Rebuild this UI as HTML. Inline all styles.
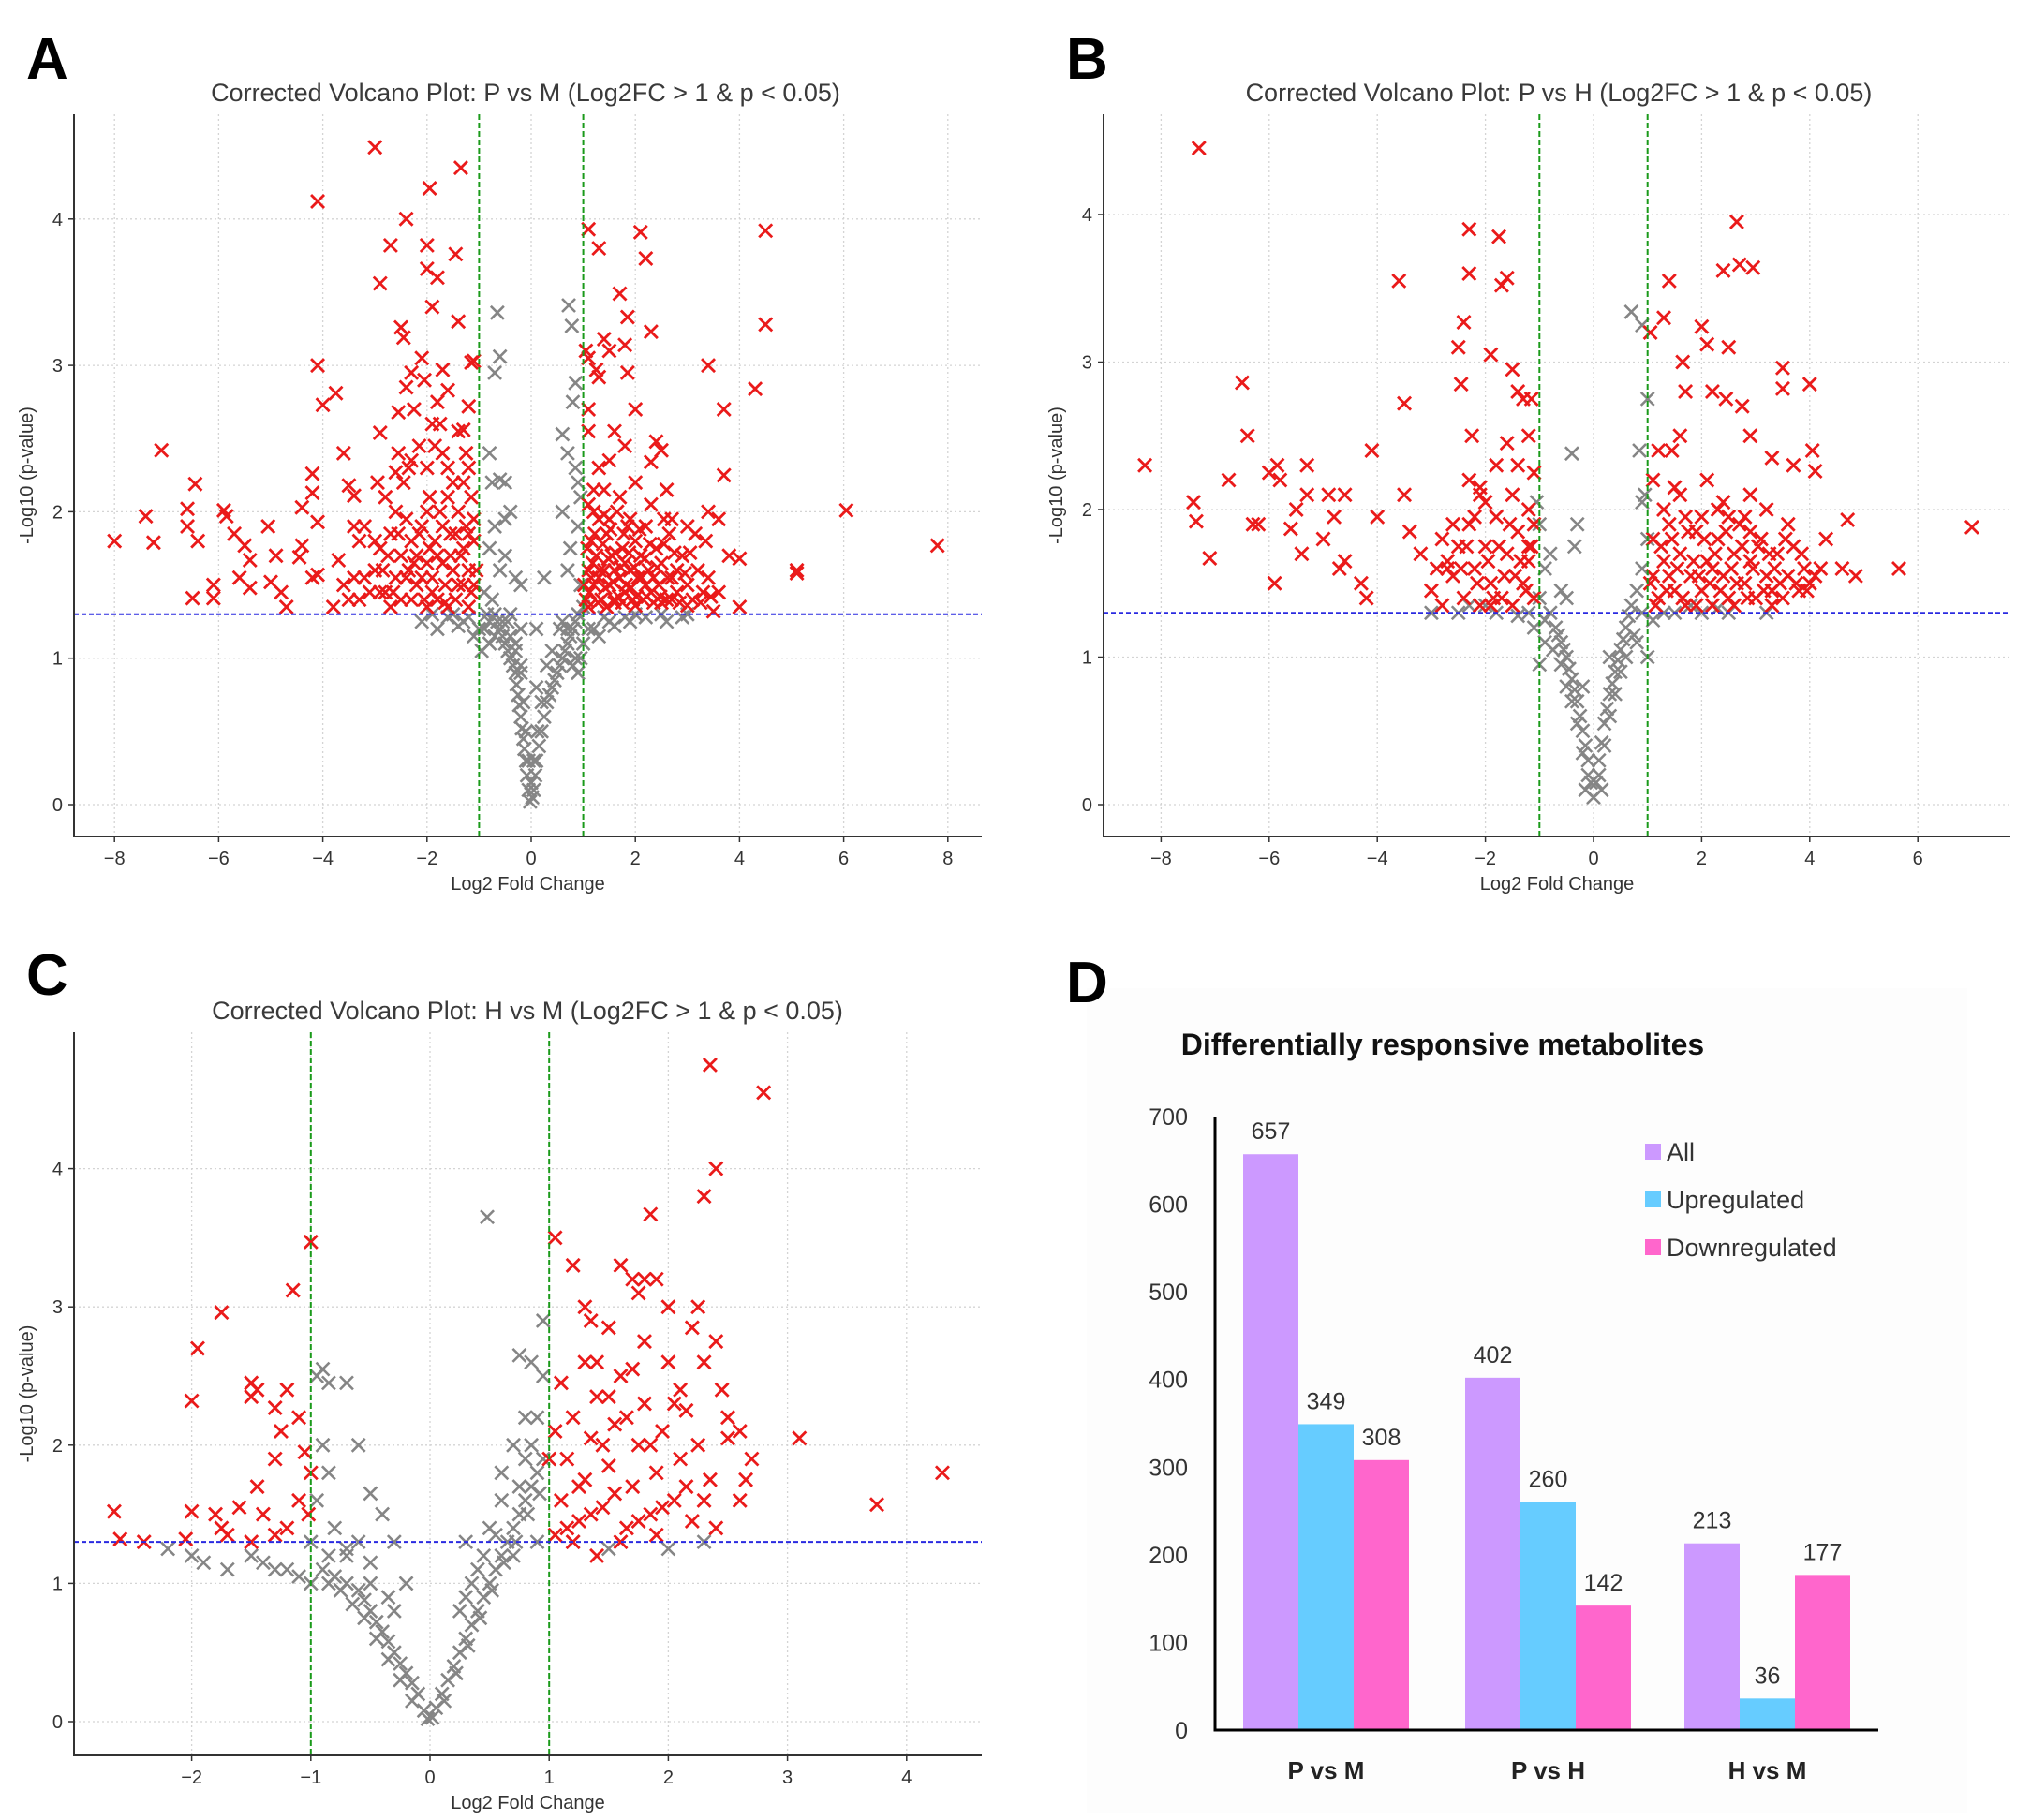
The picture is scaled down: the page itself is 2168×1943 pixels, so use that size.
<!DOCTYPE html>
<html><head><meta charset="utf-8"><style>
html,body{margin:0;padding:0;background:#fff}
svg{display:block}
text{font-family:"Liberation Sans","DejaVu Sans",sans-serif}
</style></head><body>
<svg id="fig" width="2168" height="1943" viewBox="0 0 2168 1943" xmlns="http://www.w3.org/2000/svg">
<rect x="1160" y="1055" width="940" height="880" fill="#fdfdfd"/>
<text x="28" y="84" font-size="62" font-weight="bold">A</text>
<text x="1138" y="84" font-size="62" font-weight="bold">B</text>
<text x="28" y="1062" font-size="62" font-weight="bold">C</text>
<text x="1138" y="1070" font-size="62" font-weight="bold">D</text>
<g id="pA"></g>
<g id="pB"></g>
<g id="pC"></g>
<g id="pD"></g>
</svg>
<script>
// ---------- Panel A data (log2FC, -log10 p) ----------
const aRed = [[-8,1.8],[-7.4,1.97],[-7.25,1.79],[-7.1,2.42],[-6.6,2.02],[-6.6,1.9],[-6.45,2.19],[-6.4,1.8],[-6.5,1.41],[-6.1,1.5],[-6.1,1.41],[-5.9,2.01],[-5.85,1.97],[-5.7,1.85],[-5.5,1.77],[-5.4,1.67],[-5.4,1.48],[-5.6,1.55],[-5.05,1.9],[-5,1.52],[-4.9,1.7],[-4.8,1.45],[-4.7,1.35],[-4.45,1.69],[-4.4,1.77],[-4.4,2.03],[-4.2,2.26],[-4.2,2.13],[-4.1,1.93],[-4.1,1.57],[-4.2,1.55],[-4.1,4.12],[-4.1,3.0],[-4.0,2.73],[-3.75,2.81],[-3.6,2.4],[-3.5,2.18],[-3.4,2.11],[-3.4,1.9],[-3.8,1.35],[-3.7,1.67],[-3.6,1.5],[-3.5,1.4],[-3.3,1.8],[-3.2,1.55],[-3.1,1.45],[-3.0,4.49],[-2.95,2.2],[-2.9,2.54],[-2.9,3.56],[-2.7,3.82],[-2.6,2.27],[-2.55,2.68],[-2.5,3.26],[-2.45,3.19],[-2.4,4.0],[-2.4,2.85],[-2.3,2.95],[-2.3,2.35],[-2.1,3.05],[-2.05,2.9],[-2.0,3.82],[-2.0,3.66],[-1.95,4.21],[-1.9,3.4],[-1.8,3.6],[-1.8,2.75],[-1.7,2.97],[-1.6,2.83],[-1.45,3.76],[-1.4,3.3],[-1.35,4.35],[-1.3,2.56],[-1.2,2.72],[-1.15,3.02],[-1.1,3.03],[-1.2,2.3],[-1.15,2.1],[-1.25,1.9],[-1.1,1.95],
[-3,1.6],[-2.9,1.75],[-2.8,1.45],[-2.7,1.85],[-2.6,1.55],[-2.5,1.7],[-2.5,1.4],[-2.4,1.95],[-2.35,1.6],[-2.3,1.8],[-2.2,1.5],[-2.2,1.7],[-2.1,1.9],[-2.05,1.4],[-2,1.65],[-1.95,2.1],[-1.9,1.55],[-1.85,1.8],[-1.8,1.4],[-1.75,2.0],[-1.7,1.65],[-1.65,1.5],[-1.6,2.3],[-1.55,1.85],[-1.5,1.6],[-1.45,1.4],[-1.4,2.0],[-1.35,1.7],[-1.3,1.5],[-1.25,2.4],[-1.2,1.6],[-1.15,1.45],[-1.1,1.8],[-1.05,1.6],[-2.6,2.0],[-2.45,2.2],[-2.15,2.45],[-1.9,2.6],[-1.7,2.4],[-1.5,2.2],[-2.8,2.1],[-3.2,1.9],[-2.0,1.35],[-1.6,1.35],[-2.7,1.35],[-1.2,1.35],[-2.25,2.7],[-1.75,2.6],[-2.0,2.3],[-1.4,2.55],
[1.1,3.93],[1.3,3.8],[2.1,3.91],[2.2,3.73],[1.7,3.49],[1.85,3.33],[2.3,3.23],[1.4,3.18],[1.5,3.1],[1.05,3.1],[1.1,3.05],[1.25,2.97],[1.8,3.14],[1.85,2.95],[1.3,2.92],[2.0,2.7],[1.1,2.7],[1.1,2.55],[1.6,2.55],[1.8,2.45],[2.4,2.48],[2.5,2.42],[1.5,2.35],[2.3,2.34],[1.3,2.3],[1.2,2.15],[1.4,2.15],[2.0,2.2],[2.6,2.15],[1.1,2.05],[1.7,2.1],[1.4,1.98],[3.4,3.0],[4.5,3.92],[4.5,3.28],[4.3,2.84],[3.7,2.7],[3.7,2.25],[3.4,2.0],[3.6,1.95],[3.8,1.7],[4.0,1.68],[4.0,1.35],[3.5,1.32],[3.6,1.45],[6.05,2.01],[5.1,1.6],[5.1,1.58],[7.8,1.77],
[1.05,1.4],[1.1,1.6],[1.15,1.8],[1.2,1.5],[1.25,1.7],[1.3,1.95],[1.35,1.4],[1.4,1.6],[1.45,1.85],[1.5,1.5],[1.55,1.7],[1.6,1.4],[1.65,2.0],[1.7,1.55],[1.75,1.75],[1.8,1.45],[1.85,1.9],[1.9,1.6],[1.95,1.4],[2.0,1.8],[2.05,1.55],[2.1,1.7],[2.15,1.4],[2.2,1.9],[2.25,1.6],[2.3,1.45],[2.4,1.75],[2.45,1.5],[2.5,1.65],[2.6,1.4],[2.65,1.85],[2.7,1.55],[2.8,1.45],[2.9,1.7],[3.0,1.5],[3.1,1.4],[3.15,1.85],[3.2,1.6],[3.3,1.45],[3.4,1.55],[1.2,2.0],[1.5,1.95],[2.3,2.05],[2.7,1.95],[3.0,1.9],[1.1,1.35],[1.6,1.38],[2.0,1.36],[2.5,1.38],[3.0,1.36],[1.3,1.55],[1.8,1.65],[2.2,1.5],[2.8,1.6]];
const aRed2 = [[1.02,1.5],[1.08,1.75],[1.12,1.45],[1.18,1.65],[1.22,1.85],[1.28,1.38],[1.32,1.6],[1.38,1.78],[1.42,1.48],[1.48,1.68],[1.52,1.88],[1.58,1.52],[1.62,1.72],[1.68,1.42],[1.72,1.62],[1.78,1.85],[1.82,1.5],[1.88,1.72],[1.92,1.48],[1.98,1.62],[2.02,1.42],[2.08,1.88],[2.12,1.55],[2.18,1.68],[2.22,1.42],[2.28,1.78],[2.35,1.55],[2.42,1.62],[2.48,1.42],[2.55,1.78],[2.62,1.55],[2.75,1.72],[2.85,1.38],[2.95,1.58],[3.05,1.72],[3.25,1.38],[3.35,1.8],[3.45,1.42],[1.15,1.55],[1.45,1.35],[1.75,1.38],[2.35,1.38],[2.7,1.4],[1.6,1.6],[1.9,1.95],[2.55,1.95],
[-3.4,1.55],[-3.3,1.4],[-3.0,1.8],[-2.9,1.45],[-2.85,1.6],[-2.75,1.7],[-2.65,1.45],[-2.55,1.85],[-2.4,1.55],[-2.3,1.4],[-2.25,1.65],[-2.15,1.85],[-2.1,1.55],[-1.95,1.75],[-1.9,1.45],[-1.8,1.7],[-1.7,1.9],[-1.65,1.38],[-1.55,1.7],[-1.45,1.85],[-1.4,1.5],[-1.3,1.75],[-1.2,1.85],[-1.1,1.5],[-2.0,2.0],[-1.6,2.1],[-2.35,2.3],[-1.3,2.2],[-1.85,2.45],[-2.55,2.4]];
const aGrey = [[-0.02,0.02],[-0.05,0.1],[-0.08,0.2],[-0.1,0.3],[-0.13,0.38],[-0.15,0.45],[-0.18,0.52],[-0.2,0.6],[-0.23,0.68],[-0.25,0.75],[-0.28,0.82],[-0.3,0.9],[-0.35,0.95],[-0.4,1.0],[-0.45,1.05],[-0.5,1.1],[-0.55,1.15],[-0.6,1.2],[-0.65,1.25],[-0.7,1.3],[-0.8,1.25],[-0.9,1.2],[-1.1,1.15],[-1.3,1.25],[-1.5,1.3],[-1.9,1.3],[-0.3,1.1],[-0.2,0.9],[-0.45,1.25],[-0.65,3.36],[-0.6,3.06],[-0.7,2.95],[-0.8,2.4],[-0.75,2.2],[-0.6,2.22],[-0.5,2.2],[-0.4,2.0],[-0.5,1.95],[-0.7,1.9],[-0.8,1.75],[-0.6,1.6],[-0.5,1.7],[-0.3,1.55],[-0.2,1.5],[-0.9,1.45],[-0.75,1.4],
[0.02,0.05],[0.05,0.1],[0.08,0.2],[0.1,0.3],[0.15,0.4],[0.2,0.5],[0.25,0.6],[0.3,0.7],[0.35,0.75],[0.4,0.8],[0.45,0.85],[0.5,0.9],[0.55,0.95],[0.6,1.0],[0.65,1.05],[0.7,1.1],[0.75,1.15],[0.8,1.2],[0.85,1.25],[0.9,1.3],[1.0,1.35],[0.95,1.0],[0.8,0.95],[1.2,1.2],[1.5,1.25],[1.8,1.28],[2,1.3],[2.5,1.3],[3,1.3],[0.25,1.55],[0.1,1.2],[0.72,3.41],[0.78,3.27],[0.85,2.88],[0.8,2.75],[0.6,2.53],[0.7,2.4],[0.85,2.3],[0.9,2.2],[0.95,2.1],[0.6,2.0],[0.9,1.9],[0.75,1.75],[0.7,1.6],[0.95,1.5]];
const aGrey2 = [[-0.05,0.3],[0.05,0.3],[-0.1,0.5],[0.12,0.5],[-0.15,0.7],[0.2,0.7],[-0.2,0.95],[0.3,0.95],[-0.3,1.05],[0.4,1.05],[-0.4,1.15],[0.55,1.2],[-0.55,1.25],[0.6,1.25],[-0.8,1.1],[-1.0,1.2],[-1.2,1.28],[-1.4,1.22],[-1.6,1.28],[-1.8,1.2],[-2.1,1.25],[-0.95,1.05],[0.7,1.2],[1.1,1.2],[1.3,1.15],[1.6,1.22],[1.9,1.25],[2.2,1.28],[2.6,1.25],[2.9,1.28],[1.0,1.1],[0.9,0.9],[1.4,1.28],[0.85,1.0],[-0.7,1.15],[-0.85,1.3],[-0.4,1.3],[-0.2,1.2],[0.1,0.8],[0.0,0.15]];
// ---------- Panel B data ----------
const bRed = [[-8.3,2.3],[-7.4,2.05],[-7.35,1.92],[-7.1,1.67],[-6.75,2.2],[-6.5,2.86],[-6.4,2.5],[-6.3,1.9],[-6.2,1.9],[-6.0,2.25],[-5.9,1.5],[-5.85,2.3],[-5.8,2.2],[-5.6,1.87],[-5.5,2.0],[-5.4,1.7],[-5.3,2.3],[-5.3,2.1],[-5.0,1.8],[-4.9,2.1],[-4.8,1.95],[-4.6,1.65],[-4.7,1.6],[-4.6,2.1],[-4.3,1.5],[-4.2,1.4],[-4.1,2.4],[-4.0,1.95],[-3.6,3.55],[-3.5,2.72],[-3.5,2.1],[-3.4,1.85],[-3.2,1.7],[-7.3,4.45],[-2.8,1.8],[-2.7,1.6],[-2.5,3.1],[-2.45,2.85],[-2.4,3.27],[-2.3,3.9],[-2.3,3.6],[-2.25,2.5],[-2.3,2.2],[-2.1,2.1],[-1.9,3.05],[-1.75,3.85],[-1.7,3.52],[-1.6,3.57],[-1.5,2.95],[-1.4,2.8],[-1.3,2.75],[-1.15,2.75],[-1.2,2.5],[-1.1,2.25],[-1.1,1.9],[-1.2,1.75],
[-3,1.45],[-2.8,1.35],[-2.6,1.55],[-2.5,1.75],[-2.4,1.4],[-2.3,1.9],[-2.2,1.6],[-2.1,1.35],[-2.0,1.75],[-1.9,1.5],[-1.8,1.95],[-1.7,1.4],[-1.6,1.7],[-1.5,1.35],[-1.45,1.55],[-1.4,1.85],[-1.3,1.5],[-1.2,1.65],[-1.1,1.4],[-2.1,2.15],[-1.8,2.3],[-1.5,2.1],[-2.6,1.9],[-1.9,1.35],[-1.2,2.0],[-1.6,2.45],[-2.2,1.95],[-2.7,1.65],
[1.05,3.2],[1.3,3.3],[1.4,3.55],[2.0,3.24],[2.1,3.12],[2.4,3.62],[2.65,3.95],[2.7,3.66],[2.95,3.64],[2.5,3.1],[2.45,2.75],[2.2,2.8],[1.7,2.8],[1.65,3.0],[3.5,2.96],[3.5,2.82],[2.75,2.7],[4.0,2.85],[4.1,2.26],[4.05,2.4],[3.7,2.3],[3.3,2.35],[2.9,2.5],[1.6,2.5],[1.45,2.4],[1.2,2.4],[1.1,2.2],[1.5,2.15],[2.3,2.0],[4.7,1.93],[5.65,1.6],[7.0,1.88],[4.85,1.55],[4.6,1.6],[4.3,1.8],[4.0,1.5],
[1.05,1.5],[1.1,1.8],[1.2,1.4],[1.3,1.65],[1.4,1.9],[1.5,1.45],[1.6,1.7],[1.7,1.35],[1.8,1.55],[1.9,1.85],[2.0,1.45],[2.1,1.65],[2.2,1.35],[2.3,1.8],[2.4,1.55],[2.5,1.4],[2.6,1.7],[2.7,1.9],[2.8,1.5],[2.9,1.65],[3.0,1.4],[3.1,1.8],[3.2,1.55],[3.3,1.45],[3.4,1.7],[3.5,1.4],[3.6,1.55],[3.7,1.75],[3.8,1.45],[3.9,1.6],[1.3,2.0],[1.6,2.1],[2.0,1.95],[2.4,2.05],[2.8,1.95],[3.2,2.0],[1.15,1.35],[1.9,1.35],[2.6,1.35],[3.3,1.35],[1.4,1.55],[2.2,1.6],[2.9,1.85],[3.6,1.9]];
const bRed2 = [[1.1,1.55],[1.25,1.75],[1.35,1.45],[1.45,1.8],[1.55,1.6],[1.65,1.4],[1.75,1.85],[1.85,1.65],[1.95,1.55],[2.05,1.8],[2.15,1.5],[2.25,1.7],[2.35,1.45],[2.45,1.85],[2.55,1.6],[2.65,1.5],[2.75,1.75],[2.85,1.4],[2.95,1.6],[3.05,1.75],[3.15,1.45],[3.25,1.7],[3.35,1.6],[3.45,1.5],[3.55,1.8],[3.75,1.5],[3.85,1.7],[3.95,1.45],[4.1,1.55],[4.2,1.6],[1.7,1.95],[2.1,2.2],[2.5,1.95],[2.9,2.1],
[-2.9,1.6],[-2.45,1.6],[-2.35,1.75],[-2.15,1.5],[-1.95,1.65],[-1.85,1.4],[-1.75,1.75],[-1.65,1.55],[-1.55,1.9],[-1.35,1.65],[-1.25,1.45],[-1.15,1.75],[-2.0,2.05],[-1.4,2.3]];
const bGrey = [[0,0.05],[-0.05,0.15],[-0.1,0.3],[-0.15,0.4],[-0.2,0.5],[-0.25,0.6],[-0.3,0.7],[-0.35,0.78],[-0.4,0.85],[-0.45,0.92],[-0.5,1.0],[-0.55,1.05],[-0.6,1.1],[-0.65,1.15],[-0.7,1.2],[-0.8,1.3],[-0.9,1.1],[-1.0,0.95],[-1.2,1.3],[-1.5,1.35],[-2.0,1.35],[-2.5,1.3],[-3,1.3],[-1.0,1.4],[-0.9,1.6],[-0.8,1.7],[-0.4,2.38],[-0.3,1.9],[-0.35,1.75],[-0.5,1.4],[-1.05,2.05],[-1.0,1.9],[-0.6,1.45],[-0.2,0.8],
[0.05,0.15],[0.1,0.3],[0.15,0.42],[0.2,0.55],[0.25,0.65],[0.3,0.75],[0.35,0.82],[0.4,0.9],[0.45,0.98],[0.5,1.05],[0.55,1.12],[0.6,1.2],[0.65,1.28],[0.7,1.35],[0.8,1.45],[0.9,1.6],[1.0,1.8],[0.9,2.05],[0.95,2.1],[0.85,2.4],[1.0,2.75],[0.7,3.34],[0.9,3.25],[1.5,1.3],[2,1.3],[2.5,1.3],[3.2,1.3],[1.0,1.0],[0.8,1.1],[0.3,1.0]];
const bGrey2 = [[-0.1,0.2],[0.1,0.2],[-0.2,0.35],[0.2,0.4],[-0.3,0.55],[0.3,0.6],[-0.4,0.7],[0.4,0.75],[-0.5,0.8],[0.5,0.9],[-0.6,0.95],[0.6,1.0],[-0.75,1.05],[0.75,1.15],[-0.9,1.25],[0.9,1.3],[-1.1,1.2],[1.1,1.25],[-1.4,1.28],[1.3,1.3],[-1.8,1.3],[1.8,1.35],[-2.3,1.35],[2.3,1.33],[-0.15,0.1],[0.15,0.1]];
// ---------- Panel C data ----------
const cRed = [[-2.65,1.52],[-2.6,1.32],[-2.4,1.3],[-2.05,1.32],[-2.0,1.52],[-2.0,2.32],[-1.95,2.7],[-1.75,2.96],[-1.8,1.5],[-1.75,1.4],[-1.7,1.35],[-1.6,1.55],[-1.5,2.45],[-1.5,2.35],[-1.45,2.4],[-1.45,1.7],[-1.4,1.5],[-1.3,1.9],[-1.25,2.1],[-1.3,2.27],[-1.2,2.4],[-1.15,3.12],[-1.1,2.2],[-1.05,1.95],[-1.0,3.47],[-1.0,1.8],[-1.1,1.6],[-1.2,1.4],[-1.3,1.35],[-1.5,1.3],[-1.02,1.5],
[1.05,3.5],[1.2,3.3],[1.3,3.0],[1.35,2.9],[1.5,2.85],[1.6,3.3],[1.7,3.2],[1.75,3.1],[1.8,3.2],[1.9,3.2],[2.0,3.0],[1.85,3.67],[2.3,3.8],[2.35,4.75],[2.4,4.0],[2.8,4.55],[2.2,2.85],[2.25,3.0],[2.3,2.6],[2.4,2.75],[2.1,2.4],[2.5,2.2],[2.5,2.05],[2.6,2.1],[2.65,1.75],[2.7,1.9],[2.35,1.75],[2.4,1.4],[3.1,2.05],[3.75,1.57],[4.3,1.8],
[1.05,1.35],[1.1,1.6],[1.15,1.9],[1.2,2.2],[1.25,1.45],[1.3,1.75],[1.35,2.05],[1.4,2.35],[1.45,1.55],[1.5,1.85],[1.55,2.15],[1.6,2.5],[1.65,1.4],[1.7,1.7],[1.75,2.0],[1.8,2.3],[1.85,1.5],[1.9,1.8],[1.95,2.1],[2.0,2.6],[2.05,1.6],[2.1,1.9],[2.15,2.25],[2.2,1.45],[1.1,2.45],[1.3,2.6],[1.5,2.35],[1.7,2.55],[1.2,1.3],[1.6,1.3],[1.4,1.2],[1.9,1.35],[2.3,1.6],[1.0,1.9],[1.05,2.1]];
const cRed2 = [[1.15,1.4],[1.25,1.7],[1.35,1.5],[1.45,2.0],[1.55,1.65],[1.65,2.2],[1.75,1.45],[1.85,2.0],[1.95,1.55],[2.05,2.3],[2.15,1.7],[2.25,2.0],[1.4,2.6],[1.8,2.75],[2.45,2.4],[2.6,1.6]];
const cGrey = [[-0.02,0.02],[-0.05,0.08],[-0.1,0.2],[-0.15,0.28],[-0.2,0.35],[-0.25,0.42],[-0.3,0.5],[-0.35,0.58],[-0.4,0.65],[-0.45,0.72],[-0.5,0.8],[-0.55,0.88],[-0.6,0.95],[-0.7,1.0],[-0.8,1.05],[-0.9,1.1],[-1.0,1.0],[-1.2,1.1],[-1.4,1.15],[-1.7,1.1],[-2.0,1.2],[-2.2,1.25],[-0.9,2.0],[-0.95,2.5],[-0.9,2.55],[-0.85,2.45],[-0.7,2.45],[-0.6,2.0],[-0.5,1.65],[-0.4,1.5],[-0.3,1.3],[-0.2,1.0],[-0.6,1.3],[-0.8,1.4],[-0.95,1.6],[-0.85,1.8],[-0.35,0.9],[-0.5,1.15],[-0.7,1.25],
[0.02,0.03],[0.05,0.1],[0.1,0.2],[0.15,0.3],[0.2,0.4],[0.25,0.5],[0.3,0.6],[0.35,0.7],[0.4,0.8],[0.45,0.9],[0.5,1.0],[0.55,1.1],[0.6,1.2],[0.65,1.3],[0.7,1.4],[0.75,1.5],[0.8,1.6],[0.85,1.7],[0.9,1.8],[0.95,1.9],[0.9,2.2],[0.95,2.5],[0.85,2.6],[0.75,2.65],[0.95,2.9],[0.48,3.65],[0.5,1.4],[0.6,1.6],[0.7,1.2],[0.3,1.3],[0.4,1.1],[0.8,1.9],[0.9,1.3],[1.5,1.25],[2.0,1.25],[2.3,1.3],[1.2,1.3],[0.25,0.8],[0.35,1.0]];
const cGrey2 = [[-0.15,0.15],[0.12,0.15],[-0.25,0.3],[0.22,0.35],[-0.35,0.45],[0.32,0.55],[-0.45,0.6],[0.42,0.75],[-0.55,0.75],[0.52,0.95],[-0.65,0.85],[0.62,1.15],[-0.75,0.95],[0.72,1.3],[-0.85,1.0],[0.82,1.5],[-1.1,1.05],[0.92,1.65],[-1.3,1.1],[0.6,1.8],[-1.5,1.2],[0.7,2.0],[-1.9,1.15],[0.8,2.2],[-0.3,0.8],[0.3,0.9],[-0.5,1.0],[0.45,1.2],[-0.7,1.2],[0.55,1.35],[0.75,1.7],[0.85,2.0],[-0.85,1.2],[-1.0,1.3]];
// ---------- Panel D data ----------
const dGroups = ["P vs M","P vs H","H vs M"];
const dSeries = ["All","Upregulated","Downregulated"];
const dAll = [657,402,213];
const dUp = [349,260,36];
const dDown = [308,142,177];
const dTicks = [0,100,200,300,400,500,600,700];

const NS="http://www.w3.org/2000/svg";
function mk(parent,tag,attrs,txt){const e=document.createElementNS(NS,tag);for(const k in attrs)e.setAttribute(k,attrs[k]);if(txt!==undefined)e.textContent=txt;parent.appendChild(e);return e;}

function volcano(gid,cfg,red,grey){
  const g=document.getElementById(gid);
  const X=v=>cfg.x0+cfg.ux*v, Y=v=>cfg.y0-cfg.uy*v;
  cfg.xt.forEach(t=>{const l=mk(g,'line',{x1:X(t),x2:X(t),y1:cfg.top,y2:cfg.bottom,stroke:'#d4d4d4','stroke-width':1.3,'stroke-dasharray':'2,3'});
    
    });
  cfg.yt.forEach(t=>{const l=mk(g,'line',{x1:cfg.left,x2:cfg.right,y1:Y(t),y2:Y(t),stroke:'#d4d4d4','stroke-width':1.3,'stroke-dasharray':'2,3'});
    
    });
  const s=7;
  grey.forEach(p=>{const x=X(p[0]),y=Y(p[1]);
    const m=mk(g,'path',{d:`M${x-s},${y-s}L${x+s},${y+s}M${x-s},${y+s}L${x+s},${y-s}`,stroke:'#858585','stroke-width':2.6,fill:'none'});
    
    });
  red.forEach(p=>{const x=X(p[0]),y=Y(p[1]);
    const m=mk(g,'path',{d:`M${x-s},${y-s}L${x+s},${y+s}M${x-s},${y+s}L${x+s},${y-s}`,stroke:'#ea1a1a','stroke-width':2.8,fill:'none'});
    
    });
  [-1,1].forEach(t=>{const l=mk(g,'line',{x1:X(t),x2:X(t),y1:cfg.top,y2:cfg.bottom,stroke:'#1a9a1a','stroke-width':2,'stroke-dasharray':'6,3'});
    
    });
  const hl=mk(g,'line',{x1:cfg.left,x2:cfg.right,y1:Y(1.3),y2:Y(1.3),stroke:'#2a2ae0','stroke-width':2,'stroke-dasharray':'5,3'});
  
  
  const ax=mk(g,'path',{d:`M${cfg.left},${cfg.top}V${cfg.bottom}H${cfg.right}`,stroke:'#333','stroke-width':2,fill:'none'});
  
  
  cfg.xt.forEach(t=>{mk(g,'line',{x1:X(t),x2:X(t),y1:cfg.bottom,y2:cfg.bottom+6,stroke:'#333','stroke-width':1.5});
    const tx=mk(g,'text',{x:X(t),y:cfg.bottom+30,'font-size':20,'text-anchor':'middle',fill:'#333'},(t<0?'\u2212':'')+Math.abs(t));
    
    });
  cfg.yt.forEach(t=>{mk(g,'line',{x1:cfg.left-6,x2:cfg.left,y1:Y(t),y2:Y(t),stroke:'#333','stroke-width':1.5});
    const tx=mk(g,'text',{x:cfg.left-12,y:Y(t)+7,'font-size':20,'text-anchor':'end',fill:'#333'},String(t));
    
    });
  const xl=mk(g,'text',{x:(cfg.left+cfg.right)/2,y:cfg.bottom+57,'font-size':20,'text-anchor':'middle',fill:'#333'},'Log2 Fold Change');
  
  
  const yx=cfg.left-44, yy=(cfg.top+cfg.bottom)/2;
  const yl=mk(g,'text',{x:yx,y:yy,'font-size':20,'text-anchor':'middle',fill:'#333',transform:`rotate(-90 ${yx} ${yy})`},'-Log10 (p-value)');
  
  
  const ti=mk(g,'text',{x:cfg.tx,y:cfg.top-14,'font-size':27,'text-anchor':'middle',fill:'#3a3a3a'},cfg.title);
  
  
}
volcano('pA',{x0:567,ux:55.6,y0:859,uy:156.3,left:79,right:1048,top:122,bottom:893,tx:561,title:'Corrected Volcano Plot: P vs M (Log2FC > 1 & p < 0.05)',xt:[-8,-6,-4,-2,0,2,4,6,8],yt:[0,1,2,3,4]},aRed.concat(aRed2),aGrey.concat(aGrey2));
volcano('pB',{x0:1701,ux:57.7,y0:859,uy:157.5,left:1178,right:2146,top:122,bottom:893,tx:1664,title:'Corrected Volcano Plot: P vs H (Log2FC > 1 & p < 0.05)',xt:[-8,-6,-4,-2,0,2,4,6],yt:[0,1,2,3,4]},bRed.concat(bRed2),bGrey.concat(bGrey2));
volcano('pC',{x0:459,ux:127.2,y0:1838,uy:147.6,left:79,right:1048,top:1102,bottom:1874,tx:563,title:'Corrected Volcano Plot: H vs M (Log2FC > 1 & p < 0.05)',xt:[-2,-1,0,1,2,3,4],yt:[0,1,2,3,4]},cRed.concat(cRed2),cGrey.concat(cGrey2));

// ---------- Panel D ----------
(function(){
  const g=document.getElementById('pD');
  const y0=1847, uy=(1847-1192)/700, axX=1297, axEnd=2005;
  const Y=v=>y0-uy*v;
  const bw=59, gStart=[1327,1564,1798];
  const colors=['#cc99ff','#66ccff','#ff66cc'];
  const vals=[dAll,dUp,dDown];
  const t=mk(g,'text',{x:1540,y:1126,'font-size':32,'font-weight':'bold','text-anchor':'middle',fill:'#111'},'Differentially responsive metabolites');
  
  
  dTicks.forEach(v=>{const tx=mk(g,'text',{x:1268,y:Y(v)+9,'font-size':25,'text-anchor':'end',fill:'#333'},String(v));
    
    });
  dGroups.forEach((name,gi)=>{
    vals.forEach((arr,si)=>{
      const x=gStart[gi]+si*bw, v=arr[gi];
      const r=mk(g,'rect',{x:x,y:Y(v),width:bw,height:y0-Y(v),fill:colors[si]});
      
      
      const lb=mk(g,'text',{x:x+bw/2,y:Y(v)-16,'font-size':25,'text-anchor':'middle',fill:'#333'},String(v));
      
      
    });
    const cl=mk(g,'text',{x:gStart[gi]+1.5*bw,y:1899,'font-size':26,'font-weight':'bold','text-anchor':'middle',fill:'#222'},name);
    
    
  });
  const ax=mk(g,'path',{d:`M${axX},${1192}V${y0}H${axEnd}`,stroke:'#000','stroke-width':3,fill:'none'});
  
  
  dSeries.forEach((s,i)=>{const yy=1231+i*51;
    const sq=mk(g,'rect',{x:1756,y:yy-10,width:17,height:17,fill:colors[i]});
    
    
    const lt=mk(g,'text',{x:1779,y:yy+8,'font-size':27,fill:'#333'},s);
    
    });
})();
</script>
</body></html>
